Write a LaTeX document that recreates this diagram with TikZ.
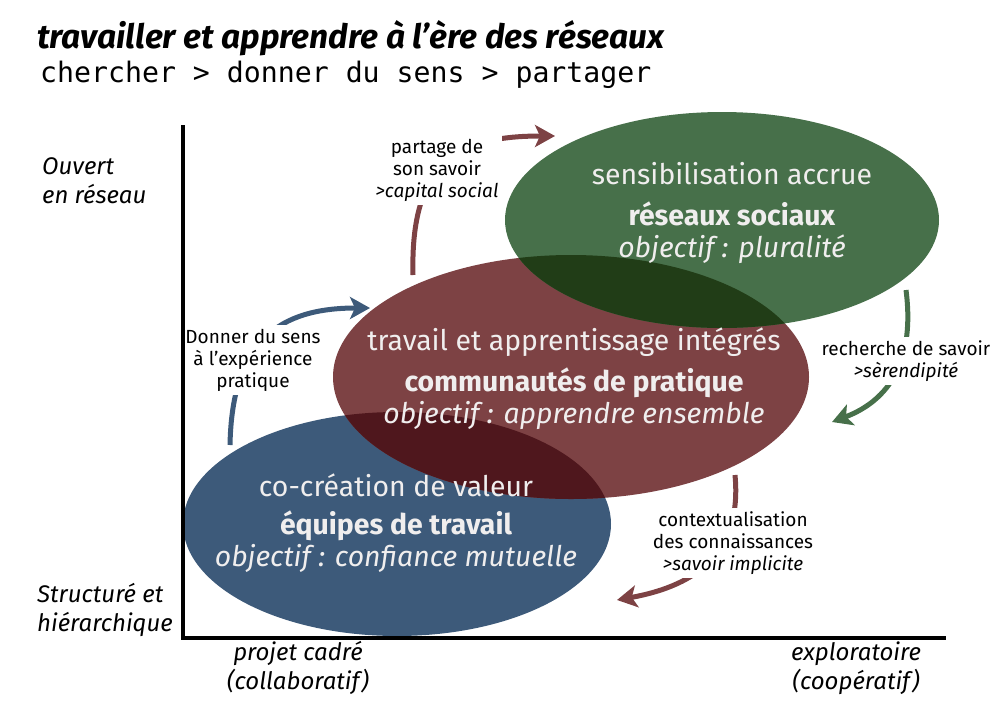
\documentclass[tikz,border=0pt]{standalone}
\usepackage{fontspec}
\setmainfont{Fira Sans}
\setmonofont{DejaVu Sans Mono}
\usetikzlibrary{positioning, arrows.meta}
\definecolor{bleu}{HTML}{3D5A7A}
\definecolor{rouge}{HTML}{7D4244}
\definecolor{vert}{HTML}{47704A}
\definecolor{rougebleu}{HTML}{4F171D}
\definecolor{vertrouge}{HTML}{213D17}
\definecolor{clair}{HTML}{F0EEEE}

\begin{document}
\begin{tikzpicture}[x=1pt, y=-1pt,
      txtbulle/.style={font=\fontsize{28.4}{32}\selectfont, text=clair, align=center, inner sep=0pt},
      etiquette/.style={font=\fontsize{19}{22}\selectfont, align=center, fill=white, inner sep=4pt},
      axe/.style={font=\itshape\fontsize{24}{29}\selectfont, inner sep=0pt},
      fleche/.style={line width=5pt, -{Stealth[length=20pt, width=22pt, inset=5pt]}},
    ]
    \useasboundingbox (0,0) rectangle (994,713);

    % Header
    \node[anchor=base west, inner sep=0pt, font=\bfseries\itshape\fontsize{33.5}{36}\selectfont]
    (titre) at (37,48) {travailler et apprendre à l’ère des réseaux};
    \node[anchor=base west, inner sep=0pt, font=\ttfamily\fontsize{28.2}{32}\selectfont]
    (soustitre) at (40,82) {chercher > donner du sens > partager};

    % Ellipses and their overlaps
    \fill[bleu] (397,524) ellipse [x radius=214, y radius=112];
    \fill[rouge] (571,377) ellipse [x radius=238, y radius=122];
    \begin{scope}
      \clip (397,524) ellipse [x radius=214, y radius=112];
      \fill[rougebleu] (571,377) ellipse [x radius=238, y radius=122];
    \end{scope}
    \fill[vert] (722,220) ellipse [x radius=217, y radius=108];
    \begin{scope}
      \clip (571,377) ellipse [x radius=238, y radius=122];
      \fill[vertrouge] (722,220) ellipse [x radius=217, y radius=108];
    \end{scope}

    % Texts in the ellipses
    \node[txtbulle] (reseaux) at (732,213)
    {sensibilisation accrue\\[9pt]\textbf{réseaux sociaux}\\\textit{objectif : pluralité}};
    \node[txtbulle] (communautes) at (574,379)
    {travail et apprentissage intégrés\\[9pt]\textbf{communautés de pratique}\\\textit{objectif : apprendre ensemble}};
    \node[txtbulle] (equipes) at (396,523)
    {co-création de valeur\\[6pt]\textbf{équipes de travail}\\\textit{objectif : confiance mutuelle}};

    % Cycle arrows
    \coordinate (partageA) at (413,275);
    \coordinate (partageB) at (555,136);
    \draw[fleche, rouge] (partageA) .. controls (410,160) and (460,136) .. (partageB);
    \coordinate (rechercheA) at (906,290);
    \coordinate (rechercheB) at (832,422);
    \draw[fleche, vert] (rechercheA) .. controls (915,360) and (890,400) .. (rechercheB);
    \coordinate (contexteA) at (735,475);
    \coordinate (contexteB) at (617,600);
    \draw[fleche, rouge] (contexteA) .. controls (742,550) and (700,585) .. (contexteB);
    \coordinate (sensA) at (230,445);
    \coordinate (sensB) at (370,308);
    \draw[fleche, bleu] (sensA) .. controls (232,340) and (280,308) .. (sensB);

    % Arrow labels
    \node[etiquette] (partage) at (437,170) {partage de\\son savoir\\\textit{>capital social}};
    \node[etiquette] (sens) at (253,360) {Donner du sens\\à l’expérience\\pratique};
    \node[etiquette] (recherche) at (906,361) {recherche de savoir\\\textit{>sèrendipité}};
    \node[etiquette] (contexte) at (733,543) {contextualisation\\des connaissances\\\textit{>savoir implicite}};

    % Axes
    \coordinate (haut) at (183,125);
    \coordinate (origine) at (183,638);
    \coordinate (droite) at (946,638);
    \draw[line width=4pt] (haut) -- (origine) -- (droite);

    % Axis labels
    \node[axe, anchor=west, align=left] (ouvert) at (42,181) {Ouvert\\en réseau};
    \node[axe, anchor=west, align=left] (structure) at (37,610) {Structuré et\\hiérarchique};
    \node[axe, align=center] (cadre) at (298,668) {projet cadré\\(collaboratif)};
    \node[axe, align=center] (exploratoire) at (856,668) {exploratoire\\(coopératif)};
  \end{tikzpicture}
\end{document}
